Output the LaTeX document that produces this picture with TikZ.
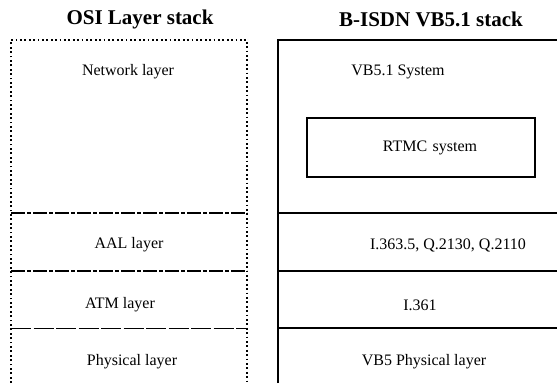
\documentclass[tikz,border=0pt]{standalone}
\usepackage{fontspec}
\setmainfont{Liberation Serif}
\begin{document}
\begin{tikzpicture}[x=1pt,y=-1pt,
  title/.style={font=\fontsize{21}{23}\selectfont\bfseries},
  label/.style={font=\fontsize{16}{18}\selectfont},
  osiedge/.style={line width=1.6pt, dash pattern=on 1.8pt off 2.6pt},
  osidashdot/.style={line width=1.6pt, dash pattern=on 14pt off 2pt on 4pt off 2pt},
  osidash/.style={line width=1pt, dash pattern=on 20pt off 2.5pt},
  vbedge/.style={line width=1.3pt},
  vbline/.style={line width=1.7pt}]
\useasboundingbox (0,0) rectangle (557,383);

% column titles
\node[title] (osititle) at (140,19) {OSI Layer stack};
\node[title] (vbtitle) at (431,19) {B-ISDN VB5.1 stack};

% OSI stack outline (dotted, open at the bottom)
\coordinate (oA) at (11,383);
\coordinate (oB) at (11,40);
\coordinate (oC) at (247,40);
\coordinate (oD) at (247,383);
\draw[osiedge] (oA) -- (oB) -- (oC) -- (oD);

% OSI layer separators
\coordinate (o1l) at (11,213);  \coordinate (o1r) at (247,213);
\coordinate (o2l) at (11,271);  \coordinate (o2r) at (247,271);
\coordinate (o3l) at (11,328);  \coordinate (o3r) at (247,328);
\draw[osidashdot] (o1l) -- (o1r);
\draw[osidashdot] (o2l) -- (o2r);
\draw[osidash] (o3l) -- (o3r);

% OSI layer names
\node[label] (net) at (128,72) {Network layer};
\node[label] (aal) at (129,245) {AAL layer};
\node[label] (atm) at (120,305) {ATM layer};
\node[label] (phy) at (132,362) {Physical layer};

% VB5.1 stack outline (open at the right and bottom)
\coordinate (vA) at (278,383);
\coordinate (vB) at (278,40);
\coordinate (vC) at (557,40);
\draw[vbedge] (vA) -- (vB) -- (vC);

% VB5.1 layer separators
\coordinate (v1l) at (278,213);  \coordinate (v1r) at (557,213);
\coordinate (v2l) at (278,271);  \coordinate (v2r) at (557,271);
\coordinate (v3l) at (278,328);  \coordinate (v3r) at (557,328);
\draw[vbline] (v1l) -- (v1r);
\draw[vbline] (v2l) -- (v2r);
\draw[vbline] (v3l) -- (v3r);

% VB5.1 layer contents
\node[label] (vbsys) at (398,72) {VB5.1 System};
\node[label, draw, line width=1.3pt, minimum width=228pt, minimum height=59pt,
      text width=214pt, align=center] (rtmc) at (421,147.5) {\hspace*{18pt}RTMC system};
\node[label] (itu) at (448,245) {I.363.5, Q.2130, Q.2110};
\node[label] (i361) at (420,305) {I.361};
\node[label] (vbphy) at (424,362) {VB5 Physical layer};
\end{tikzpicture}
\end{document}
